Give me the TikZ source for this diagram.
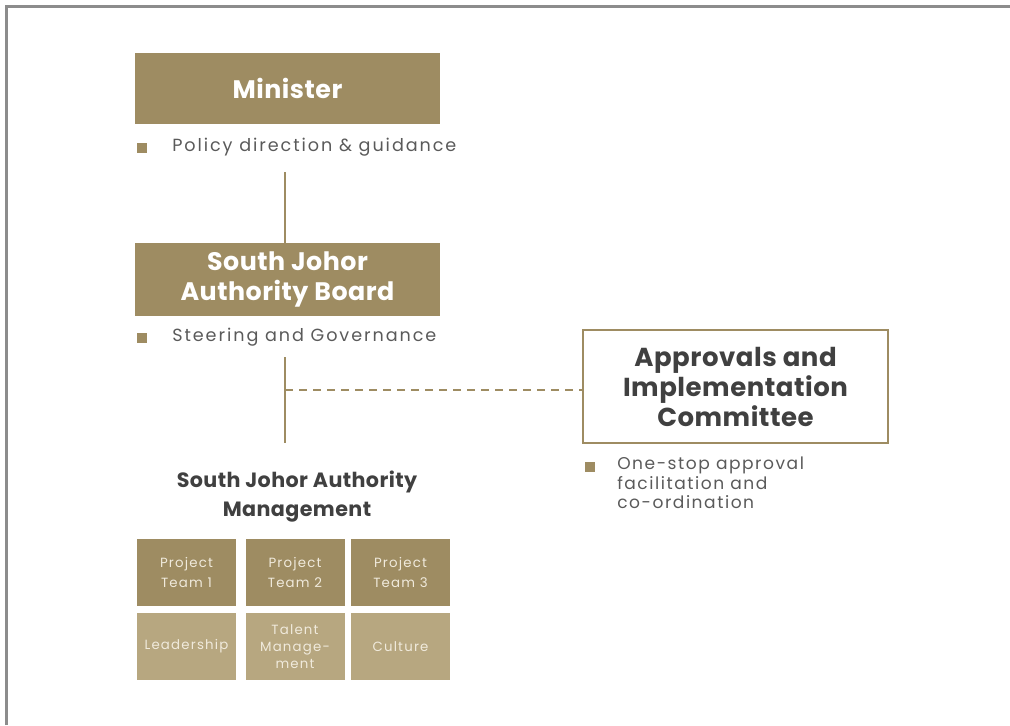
\documentclass[tikz,border=0pt]{standalone}
\usepackage{fontspec}
\setmainfont{Poppins}
\newfontfamily\bodyfont{Poppins}[LetterSpace=9]
\newfontfamily\noteFont{Poppins}[LetterSpace=11]
\newfontfamily\headfont{Poppins}[LetterSpace=2]
\begin{document}
\begin{tikzpicture}[x=0.75pt,y=-0.75pt]
\definecolor{tanD}{RGB}{158,140,98}
\definecolor{tanL}{RGB}{183,167,128}
\definecolor{ink}{RGB}{64,64,64}
\definecolor{bodytxt}{RGB}{90,90,90}
\definecolor{framegray}{RGB}{140,140,140}
\definecolor{celltxt}{RGB}{240,234,220}
\tikzset{
  headbox/.style={draw=none, fill=tanD, minimum width=228.75pt, text=white,
    font=\headfont\bfseries\fontsize{19}{22.5}\selectfont, align=center, inner sep=0pt},
  outlinebox/.style={draw=tanD, line width=2pt, fill=white, minimum width=228.75pt,
    minimum height=84.75pt, text=ink, font=\headfont\bfseries\fontsize{19.5}{22.5}\selectfont,
    align=center, inner sep=0pt},
  bulletsq/.style={fill=tanD, minimum size=7pt, inner sep=0pt, draw=none},
  bullettext/.style={anchor=west, text=bodytxt, font=\noteFont\fontsize{13.2}{14.6}\selectfont, inner sep=0pt},
  sidetext/.style={bullettext, font=\bodyfont\fontsize{12.8}{14.6}\selectfont},
  cellD/.style={fill=tanD, minimum width=74.25pt, minimum height=50.25pt, inner sep=0pt,
    text=celltxt, font=\bodyfont\fontsize{10}{15}\selectfont, align=center},
  cellL/.style={cellD, fill=tanL, font=\bodyfont\fontsize{10}{12.5}\selectfont},
  link/.style={draw=tanD, line width=2.2pt},
  dashlink/.style={link, line width=1.6pt, dash pattern=on 6pt off 4.5pt}
}
\useasboundingbox (0,0) rectangle (1010,725);
% outer frame
\draw[framegray, line width=1.6pt] (6.5,725) -- (6.5,6.5) -- (1010,6.5);

% Minister
\node[headbox, minimum height=53.25pt] (minister) at (287.5,88.5) {Minister};
\node[bulletsq] (b1) at (142,148) {};
\node[bullettext] (t1) at (172,147) {Policy direction \& guidance};

% Board
\node[headbox, minimum height=54.75pt] (board) at (287.5,279.5) {South Johor\\Authority Board};
\node[bulletsq] (b2) at (142,338) {};
\node[bullettext] (t2) at (172,337) {Steering and Governance};

% Committee
\node[outlinebox] (committee) at (735.5,386.5) {Approvals and\\Implementation\\Committee};
\node[bulletsq] (b3) at (590,467) {};
\node[sidetext, anchor=north west, align=left] (t3) at (617,457)
  {One-stop approval\\facilitation and\\co-ordination};

% Management
\node[text=ink, font=\headfont\bfseries\fontsize{15.5}{21.75}\selectfont, align=center] (mgmt) at (297,497)
  {South Johor Authority\\Management};
\node[cellD] (p1) at (186.5,572) {Project\\Team 1};
\node[cellD] (p2) at (295,572) {Project\\Team 2};
\node[cellD] (p3) at (400.5,572) {Project\\Team 3};
\node[cellL] (c1) at (186.5,646.5) {Leadership};
\node[cellL] (c2) at (295,646.5) {Talent\\Manage-\\ment};
\node[cellL] (c3) at (400.5,646.5) {Culture};

% connectors
\coordinate (m1) at (285,172);
\coordinate (s1) at (285,357);
\coordinate (s2) at (285,443);
\coordinate (j) at (285,390);
\draw[link] (m1) -- (m1 |- board.north);
\draw[link] (s1) -- (s2);
\draw[dashlink] (j) -- (j -| committee.west);
\end{tikzpicture}
\end{document}
